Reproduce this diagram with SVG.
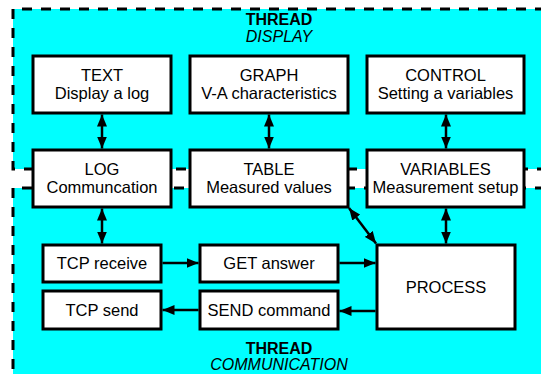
<svg xmlns="http://www.w3.org/2000/svg" width="541" height="374" viewBox="0 0 541 374">
  <defs>
    <marker id="head" viewBox="0 0 12 10" refX="12" refY="5" markerWidth="12" markerHeight="10" markerUnits="userSpaceOnUse" orient="auto-start-reverse">
      <path d="M0,0 L12,5 L0,10 Z" fill="#000"/>
    </marker>
    <style>
      .zone { fill: #00ffff; stroke: none; }
      .border { fill: none; stroke: #000; stroke-width: 3; stroke-dasharray: 10 9; }
      .box { fill: #fff; stroke: #000; stroke-width: 3; }
      .lbl { font-family: "Liberation Sans", Arial, sans-serif; font-size: 16.5px; fill: #000; text-anchor: middle; }
      .title { font-family: "Liberation Sans", Arial, sans-serif; font-size: 16px; fill: #000; text-anchor: middle; }
      .bold { font-weight: bold; }
      .ital { font-style: italic; }
      .link { fill: none; stroke: #000; stroke-width: 2.5; }
      .two { marker-start: url(#head); marker-end: url(#head); }
      .one { marker-end: url(#head); }
    </style>
  </defs>

  <!-- thread areas -->
  <g id="thread-display">
    <rect class="zone" x="13" y="9" width="540" height="160"/>
    <path class="border" d="M545,9 H13 V169 H545"/>
    <text class="title bold" x="279" y="25">THREAD</text>
    <text class="title ital" x="279" y="42">DISPLAY</text>
  </g>
  <g id="thread-communication">
    <rect class="zone" x="13" y="188" width="540" height="200"/>
    <path class="border" d="M545,188 H13 V380"/>
    <text class="title bold" x="279" y="354">THREAD</text>
    <text class="title ital" x="279" y="370">COMMUNICATION</text>
  </g>

  <!-- connectors -->
  <g id="connectors">
    <line class="link two" x1="102" y1="114.5" x2="102" y2="148.5"/>
    <line class="link two" x1="269" y1="114.5" x2="269" y2="148.5"/>
    <line class="link two" x1="446" y1="114.5" x2="446" y2="148.5"/>
    <line class="link two" x1="102" y1="208.5" x2="102" y2="243.5"/>
    <line class="link two" x1="446" y1="208.5" x2="446" y2="243.5"/>
    <line class="link two" x1="349" y1="208" x2="376" y2="243.5"/>
    <line class="link one" x1="162.5" y1="263" x2="198.5" y2="263"/>
    <line class="link one" x1="339.5" y1="263" x2="375.5" y2="263"/>
    <line class="link one" x1="375.5" y1="311" x2="339.5" y2="311"/>
    <line class="link one" x1="198.5" y1="310" x2="162.5" y2="310"/>
  </g>

  <!-- display thread nodes -->
  <g id="node-text">
    <rect class="box" x="33" y="56" width="138" height="57"/>
    <text class="lbl" x="102" y="80.5">TEXT</text>
    <text class="lbl" x="102" y="98.5">Display a log</text>
  </g>
  <g id="node-graph">
    <rect class="box" x="190" y="56" width="158" height="57"/>
    <text class="lbl" x="269" y="80.5">GRAPH</text>
    <text class="lbl" x="269" y="98.5">V-A characteristics</text>
  </g>
  <g id="node-control">
    <rect class="box" x="367" y="56" width="157" height="57"/>
    <text class="lbl" x="445.5" y="80.5">CONTROL</text>
    <text class="lbl" x="445.5" y="98.5">Setting a variables</text>
  </g>
  <g id="node-log">
    <rect class="box" x="33" y="150" width="138" height="57"/>
    <text class="lbl" x="102" y="174.5">LOG</text>
    <text class="lbl" x="102" y="192.5">Communcation</text>
  </g>
  <g id="node-table">
    <rect class="box" x="190" y="150" width="158" height="57"/>
    <text class="lbl" x="269" y="174.5">TABLE</text>
    <text class="lbl" x="269" y="192.5">Measured values</text>
  </g>
  <g id="node-variables">
    <rect class="box" x="367" y="150" width="157" height="57"/>
    <text class="lbl" x="445.5" y="174.5">VARIABLES</text>
    <text class="lbl" x="445.5" y="192.5">Measurement setup</text>
  </g>

  <!-- communication thread nodes -->
  <g id="node-tcp-receive">
    <rect class="box" x="43" y="245" width="118" height="37"/>
    <text class="lbl" x="102" y="269">TCP receive</text>
  </g>
  <g id="node-get-answer">
    <rect class="box" x="200" y="245" width="138" height="37"/>
    <text class="lbl" x="269" y="269">GET answer</text>
  </g>
  <g id="node-tcp-send">
    <rect class="box" x="43" y="291" width="118" height="38"/>
    <text class="lbl" x="102" y="316">TCP send</text>
  </g>
  <g id="node-send-command">
    <rect class="box" x="200" y="291" width="138" height="38"/>
    <text class="lbl" x="269" y="316">SEND command</text>
  </g>
  <g id="node-process">
    <rect class="box" x="377" y="245" width="138" height="84"/>
    <text class="lbl" x="446" y="293">PROCESS</text>
  </g>
</svg>
